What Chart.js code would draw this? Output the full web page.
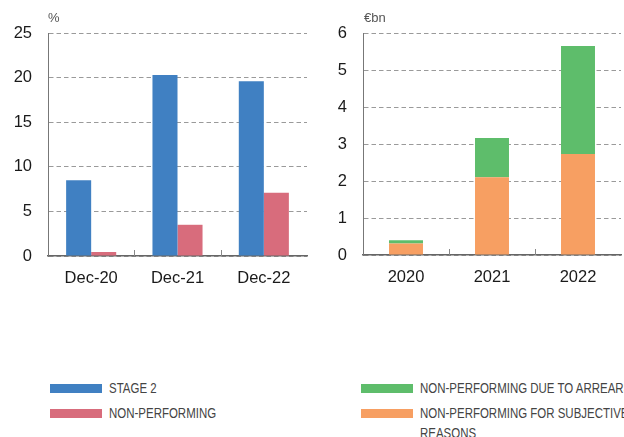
<!DOCTYPE html>
<html>
<head>
<meta charset="utf-8">
<script src="https://cdn.jsdelivr.net/npm/chart.js@4/dist/chart.umd.min.js"></script>
<style>
  html, body { margin: 0; padding: 0; background: #fff; }
  #wrap { position: relative; width: 624px; height: 437px; overflow: hidden; background: #fff; }
  .box { position: absolute; top: 0; width: 312px; height: 300px; }
  .unit { position: absolute; top: 10px; font: 13px "Liberation Sans", Arial, sans-serif; color: #555; }
  .legend { position: absolute; top: 378px; font: 15px "Liberation Sans", Arial, sans-serif; color: #444; }
  .item { position: relative; padding-left: 59px; line-height: 20px; margin-bottom: 5px; white-space: nowrap; }
  .sw { position: absolute; left: 0; top: 6px; width: 52px; height: 9px; }
  .txt { display: inline-block; width: 300px; white-space: normal; transform: scaleX(0.765); transform-origin: 0 0; }
</style>
</head>
<body>
<div id="wrap">
  <div class="box" style="left:0"><canvas id="left" width="312" height="300"></canvas></div>
  <div class="box" style="left:312px"><canvas id="right" width="312" height="300"></canvas></div>
  <div class="unit" style="left:48px">%</div>
  <div class="unit" style="left:364px">€bn</div>
  <div class="legend" id="legLeft" style="left:50px; width:250px"></div>
  <div class="legend" id="legRight" style="left:361px; width:380px"></div>
</div>
<script>
// Share of loans by stage (%)
const periods = ['Dec-20', 'Dec-21', 'Dec-22'];
const stage2 = [8.5, 20.3, 19.6];
const nonPerforming = [0.45, 3.5, 7.1];
const pctTicks = [0, 5, 10, 15, 20, 25];

// Non-performing exposures (€bn)
const years = ['2020', '2021', '2022'];
const npSubjective = [0.31, 2.1, 2.73];
const npArrears = [0.09, 1.06, 2.92];
const bnTicks = [0, 1, 2, 3, 4, 5, 6];

const FONT = { family: '"Liberation Sans", Arial, sans-serif', size: 16.5 };

// Short tick marks between categories, drawn upward from the baseline
const categoryDividers = {
  id: 'categoryDividers',
  afterDatasetsDraw(chart) {
    const x = chart.scales.x, ctx = chart.ctx, bottom = chart.chartArea.bottom;
    ctx.save();
    ctx.strokeStyle = '#888';
    ctx.lineWidth = 1;
    for (let i = 1; i < x.ticks.length; i++) {
      const px = Math.round((x.getPixelForTick(i - 1) + x.getPixelForTick(i)) / 2) + 0.5;
      ctx.beginPath();
      ctx.moveTo(px, bottom - 6);
      ctx.lineTo(px, bottom);
      ctx.stroke();
    }
    ctx.restore();
  }
};

function makeOptions(max, ticks, yWidth, xHeight, stacked, rightPad) {
  return {
    responsive: false,
    animation: false,
    events: [],
    layout: { padding: { top: 33, right: rightPad, left: 0, bottom: 0 } },
    plugins: { legend: { display: false }, tooltip: { enabled: false } },
    scales: {
      x: {
        stacked: stacked,
        grid: { display: false },
        border: { display: true, color: '#666', width: 1.5 },
        ticks: { color: '#1a1a1a', font: FONT, padding: 5, maxRotation: 0 },
        afterFit(s) { s.height = xHeight; }
      },
      y: {
        stacked: stacked,
        min: 0, max: max,
        afterBuildTicks(s) { s.ticks = ticks.map(v => ({ value: v })); },
        grid: { color: '#9a9a9a', drawTicks: false, lineWidth: 1 },
        // solid axis line; dash pattern applies to the horizontal gridlines
        border: { display: true, color: '#777', width: 1, dash: [4.5, 3] },
        ticks: { color: '#1a1a1a', font: FONT, padding: 16 },
        afterFit(s) { s.width = yWidth; }
      }
    }
  };
}

const leftChart = new Chart(document.getElementById('left'), {
  type: 'bar',
  data: {
    labels: periods,
    datasets: [
      { label: 'STAGE 2', data: stage2, backgroundColor: '#4080C2', barPercentage: 1, categoryPercentage: 0.58 },
      { label: 'NON-PERFORMING', data: nonPerforming, backgroundColor: '#D86C7C', barPercentage: 1, categoryPercentage: 0.58 }
    ]
  },
  options: makeOptions(25, pctTicks, 48, 44, false, 5),
  plugins: [categoryDividers]
});

const rightChart = new Chart(document.getElementById('right'), {
  type: 'bar',
  data: {
    labels: years,
    datasets: [
      { label: 'NON-PERFORMING FOR SUBJECTIVE REASONS', data: npSubjective, backgroundColor: '#F79F62', barPercentage: 1, categoryPercentage: 0.395 },
      { label: 'NON-PERFORMING DUE TO ARREARS', data: npArrears, backgroundColor: '#5EBD6B', barPercentage: 1, categoryPercentage: 0.395 }
    ]
  },
  options: makeOptions(6, bnTicks, 51, 45, true, 3),
  plugins: [categoryDividers]
});

// HTML legends built from the dataset definitions
function buildLegend(el, datasets) {
  el.innerHTML = '';
  datasets.forEach(ds => {
    const item = document.createElement('div');
    item.className = 'item';
    const sw = document.createElement('span');
    sw.className = 'sw';
    sw.style.background = ds.backgroundColor;
    const txt = document.createElement('span');
    txt.className = 'txt';
    txt.textContent = ds.label;
    item.appendChild(sw);
    item.appendChild(txt);
    el.appendChild(item);
  });
}
buildLegend(document.getElementById('legLeft'), leftChart.data.datasets);
buildLegend(document.getElementById('legRight'), rightChart.data.datasets.slice().reverse());
</script>
</body>
</html>
